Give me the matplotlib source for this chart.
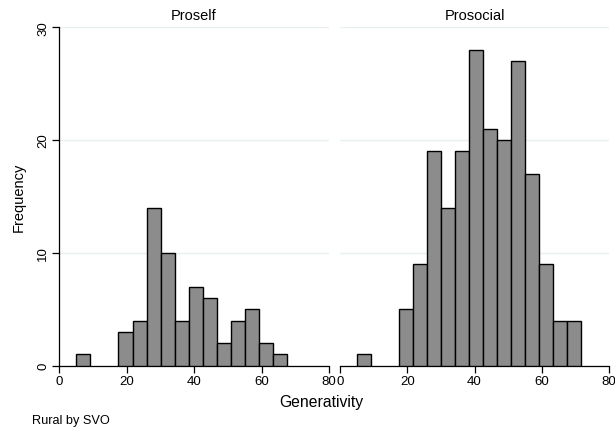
import numpy as np
import matplotlib
matplotlib.use('Agg')
import matplotlib.pyplot as plt

plt.rcParams['font.family'] = ['Liberation Sans', 'DejaVu Sans']

# histogram bins (Stata-style, same bins in both panels)
bin_start = 5.1
bin_width = 4.17
proself_counts = [1, 0, 0, 3, 4, 14, 10, 4, 7, 6, 2, 4, 5, 2, 1]
prosocial_counts = [1, 0, 0, 5, 9, 19, 14, 19, 28, 21, 20, 27, 17, 9, 4, 4]
panel_titles = ['Proself', 'Prosocial']
xticks = [0, 20, 40, 60, 80]
yticks = [0, 10, 20, 30]

fig = plt.figure(figsize=(6.15, 4.31), dpi=100)
W, H = 615, 431
ax1 = fig.add_axes([59 / W, 1 - 366.7 / H, 270 / W, 338.4 / H])
ax2 = fig.add_axes([340 / W, 1 - 366.7 / H, 269 / W, 338.4 / H])

for ax, counts, title in zip([ax1, ax2], [proself_counts, prosocial_counts], panel_titles):
    counts = np.array(counts)
    lefts = bin_start + bin_width * np.arange(len(counts))
    keep = counts > 0
    ax.bar(lefts[keep], counts[keep], width=bin_width, align='edge',
           color='#8c8c8c', edgecolor='black', linewidth=1.0, zorder=3)
    ax.set_xlim(0, 80)
    ax.set_ylim(0, 30)
    ax.set_xticks(xticks)
    ax.set_xticklabels([str(t) for t in xticks], fontsize=9.5)
    ax.set_yticks(yticks)
    ax.grid(axis='y', color='#e8f0f2', linewidth=1.0, zorder=0)
    for s in ['top', 'right']:
        ax.spines[s].set_visible(False)
    ax.spines['bottom'].set_linewidth(0.9)
    ax.spines['left'].set_linewidth(0.9)
    ax.tick_params(axis='both', length=5, width=0.9, pad=2)
    ax.set_title(title, fontsize=10.5, pad=6)

ax1.set_yticklabels([str(t) for t in yticks], fontsize=9.5, rotation=90, va='center')
ax1.set_ylabel('Frequency', fontsize=10.5)
ax1.yaxis.set_label_coords(-0.124, 0.5)

ax2.spines['left'].set_visible(False)
ax2.tick_params(axis='y', left=False, labelleft=False)

fig.text(321.5 / W, 1 - 403 / H, 'Generativity', ha='center', va='center', fontsize=11.3)
fig.text(32 / W, 1 - 420.7 / H, 'Rural by SVO', ha='left', va='center', fontsize=9.2)

fig.savefig('out.png', dpi=100)
